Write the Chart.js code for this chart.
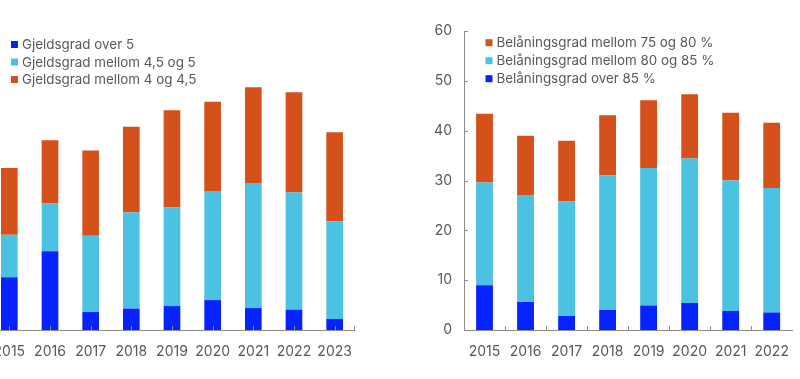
<!DOCTYPE html>
<html><head><meta charset="utf-8">
<script src="https://cdn.jsdelivr.net/npm/chart.js@4.4.0/dist/chart.umd.min.js"></script>
<style>
html,body{margin:0;padding:0;width:800px;height:379px;overflow:hidden;background:#fff;}
#wrap{position:relative;width:800px;height:379px;overflow:hidden;}
#l{position:absolute;left:-75px;top:0;width:440px;height:379px;}
#r{position:absolute;left:400px;top:0;width:402px;height:379px;}
</style></head><body>
<div id="wrap"><div id="l"><canvas id="cl"></canvas></div><div id="r"><canvas id="cr"></canvas></div></div>
<script>
// Left panel data
const yearsLeft = ['2015','2016','2017','2018','2019','2020','2021','2022','2023'];
const gjOver5   = [10.6, 15.8, 3.6, 4.3, 4.8, 6.0, 4.4, 4.1, 2.2];
const gj45to5   = [8.5, 9.6, 15.3, 19.3, 19.8, 21.9, 25.1, 23.5, 19.6];
const gj4to45   = [13.4, 12.7, 17.1, 17.2, 19.5, 17.9, 19.2, 20.1, 17.9];
// Right panel data
const yearsRight = ['2015','2016','2017','2018','2019','2020','2021','2022'];
const blOver85   = [9.0, 5.6, 2.8, 4.0, 4.9, 5.4, 3.8, 3.5];
const bl80to85   = [20.6, 21.5, 23.0, 27.0, 27.6, 29.0, 26.2, 25.0];
const bl75to80   = [13.8, 11.9, 12.2, 12.1, 13.6, 12.9, 13.6, 13.1];
const yTicks = [0,10,20,30,40,50,60];

const BLUE='#0522FF', LBLUE='#4CC2E3', ORANGE='#D4511B';
const AXIS='#8c8c8c', TXT='#585858';
const FONT='Inter';

const legendPlugin = {
  id:'cLegend',
  afterDraw(chart){
    const o = chart.options.plugins.cLegend; if(!o) return;
    const ctx = chart.ctx; ctx.save();
    ctx.font = `${o.size}px ${FONT}`; ctx.textBaseline='middle'; ctx.textAlign='left';
    o.order.forEach((di,k)=>{
      const ds = chart.data.datasets[di];
      const y = o.y + k*o.rowH;
      ctx.fillStyle = ds.backgroundColor;
      ctx.fillRect(o.x, y-3.5, 7, 7);
      ctx.fillStyle = TXT;
      ctx.fillText(ds.label, o.x+11, y+0.5);
    });
    ctx.restore();
  }
};
const tickPlugin = {
  id:'inTicks',
  afterDraw(chart){
    const o = chart.options.plugins.inTicks; if(!o) return;
    const ctx=chart.ctx, a=chart.chartArea, xs=chart.scales.x, ys=chart.scales.y;
    ctx.save(); ctx.strokeStyle=AXIS; ctx.lineWidth=1; ctx.beginPath();
    const n = chart.data.labels.length;
    if(o.xMode==='center'){
      for(let i=0;i<n;i++){ const px=Math.round(xs.getPixelForTick(i))+0.5; ctx.moveTo(px,a.bottom); ctx.lineTo(px,a.bottom-4); }
      const px=Math.round(a.right)-0.5; ctx.moveTo(px,a.bottom); ctx.lineTo(px,a.bottom-4);
    } else {
      for(let i=1;i<n;i++){ const px=Math.round((xs.getPixelForTick(i-1)+xs.getPixelForTick(i))/2)+0.5; ctx.moveTo(px,a.bottom); ctx.lineTo(px,a.bottom-4); }
    }
    if(o.y){
      yTicks.forEach(v=>{ const py=Math.round(ys.getPixelForValue(v))+0.5; ctx.moveTo(a.left,py); ctx.lineTo(a.left+4,py); });
    }
    ctx.stroke(); ctx.restore();
  }
};

function makeChart(id, labels, datasets, legendCfg, tickCfg, padRight){
  return new Chart(document.getElementById(id), {
    type:'bar',
    data:{labels, datasets: datasets.map(d=>({label:d[0], data:d[1], backgroundColor:d[2], borderWidth:0, categoryPercentage:1, barPercentage:0.41}))},
    options:{
      responsive:true, maintainAspectRatio:false, animation:false,
      layout:{padding:{top:31, left:0, right:padRight, bottom:0}},
      plugins:{legend:{display:false}, tooltip:{enabled:false}, cLegend:legendCfg, inTicks:tickCfg},
      scales:{
        x:{stacked:true, grid:{display:false, drawTicks:false}, border:{display:true, color:AXIS, width:1},
           ticks:{color:TXT, font:{family:FONT, size:14}, padding:13, maxRotation:0, autoSkip:false},
           afterFit(s){ s.height=49; }},
        y:{stacked:true, min:0, max:60, grid:{display:false, drawTicks:false}, border:{display:true, color:AXIS, width:1},
           afterBuildTicks(s){ s.ticks = yTicks.map(v=>({value:v})); },
           ticks:{color:TXT, font:{family:FONT, size:14}, padding:12},
           afterFit(s){ s.width=64; }}
      }
    },
    plugins:[legendPlugin, tickPlugin]
  });
}

makeChart('cl', yearsLeft, [
  ['Gjeldsgrad over 5', gjOver5, BLUE],
  ['Gjeldsgrad mellom 4,5 og 5', gj45to5, LBLUE],
  ['Gjeldsgrad mellom 4 og 4,5', gj4to45, ORANGE]
], {x:86, y:44.5, rowH:17.5, size:13.4, order:[0,1,2]}, {xMode:'center', y:false}, 1.5);

makeChart('cr', yearsRight, [
  ['Belåningsgrad over 85 %', blOver85, BLUE],
  ['Belåningsgrad mellom 80 og 85 %', bl80to85, LBLUE],
  ['Belåningsgrad mellom 75 og 80 %', bl75to80, ORANGE]
], {x:85.5, y:42.7, rowH:18, size:13.4, order:[2,1,0]}, {xMode:'between', y:true}, 1);
</script>
</body></html>
